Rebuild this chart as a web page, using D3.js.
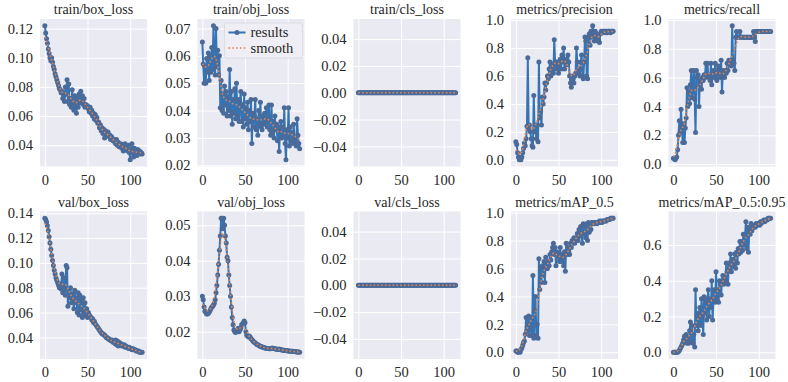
<!DOCTYPE html>
<html>
<head>
<meta charset="utf-8">
<script src="https://cdn.jsdelivr.net/npm/d3@7"></script>
<style>
  body { margin: 0; background: #fff; }
  svg { display: block; font-family: "Liberation Serif", "Times New Roman", serif; }
</style>
</head>
<body>
<svg id="chart" width="788" height="382"></svg>
<script>
// results per epoch
const trainBox = [
  0.122, 0.117, 0.113, 0.110, 0.106, 0.103, 0.100, 0.098, 0.100, 0.097,
  0.094, 0.092, 0.089, 0.087, 0.085, 0.083, 0.081, 0.079, 0.078, 0.076,
  0.077, 0.072, 0.074, 0.070, 0.080, 0.075, 0.085, 0.070, 0.082, 0.068,
  0.072, 0.066, 0.078, 0.070, 0.064, 0.074, 0.068, 0.062, 0.072, 0.066,
  0.075, 0.069, 0.077, 0.070, 0.074, 0.068, 0.072, 0.066, 0.068, 0.067,
  0.067, 0.065, 0.063, 0.066, 0.062, 0.064, 0.060, 0.062, 0.058, 0.061,
  0.057, 0.059, 0.055, 0.056, 0.052, 0.054, 0.050, 0.052, 0.048, 0.051,
  0.045, 0.050, 0.048, 0.047, 0.049, 0.046, 0.047, 0.044, 0.046, 0.045,
  0.043, 0.044, 0.042, 0.041, 0.044, 0.040, 0.042, 0.039, 0.040, 0.041,
  0.038, 0.040, 0.036, 0.039, 0.041, 0.037, 0.038, 0.036, 0.040, 0.035,
  0.030, 0.037, 0.041, 0.035, 0.032, 0.038, 0.034, 0.036, 0.033, 0.037,
  0.035, 0.036, 0.034, 0.035, 0.034
];
const trainObj = [
  0.065, 0.057, 0.050, 0.056, 0.050, 0.059, 0.054, 0.061, 0.051, 0.060,
  0.054, 0.063, 0.055, 0.071, 0.058, 0.053, 0.070, 0.056, 0.062, 0.053,
  0.060, 0.041, 0.051, 0.040, 0.046, 0.039, 0.049, 0.042, 0.047, 0.038,
  0.045, 0.040, 0.055, 0.038, 0.047, 0.035, 0.044, 0.039, 0.048, 0.037,
  0.050, 0.038, 0.044, 0.036, 0.043, 0.047, 0.036, 0.042, 0.034, 0.046,
  0.037, 0.041, 0.035, 0.043, 0.033, 0.040, 0.036, 0.044, 0.028, 0.039,
  0.034, 0.038, 0.044, 0.033, 0.037, 0.031, 0.040, 0.035, 0.043, 0.034,
  0.033, 0.038, 0.035, 0.039, 0.036, 0.041, 0.034, 0.037, 0.042, 0.033,
  0.031, 0.042, 0.032, 0.036, 0.030, 0.038, 0.033, 0.035, 0.029, 0.034,
  0.025, 0.033, 0.036, 0.030, 0.034, 0.031, 0.041, 0.028, 0.022, 0.033,
  0.030, 0.041, 0.027, 0.034, 0.029, 0.032, 0.028, 0.035, 0.030, 0.029,
  0.027, 0.037, 0.031, 0.028, 0.026
];
const trainCls = new Array(115).fill(0);
const precision = [
  0.13, 0.11, 0.05, 0.02, 0.00, 0.01, 0.00, 0.02, 0.05, 0.08,
  0.12, 0.10, 0.15, 0.24, 0.73, 0.22, 0.25, 0.20, 0.15, 0.10,
  0.09, 0.46, 0.20, 0.25, 0.15, 0.25, 0.13, 0.70, 0.30, 0.35,
  0.25, 0.45, 0.40, 0.45, 0.55, 0.50, 0.55, 0.60, 0.58, 0.65,
  0.70, 0.60, 0.65, 0.68, 0.62, 0.86, 0.70, 0.65, 0.70, 0.68,
  0.62, 0.70, 0.72, 0.65, 0.75, 0.70, 0.80, 0.65, 0.72, 0.70,
  0.68, 0.75, 0.70, 0.60, 0.55, 0.52, 0.60, 0.58, 0.55, 0.60,
  0.62, 0.80, 0.70, 0.62, 0.65, 0.60, 0.70, 0.75, 0.60, 0.58,
  0.70, 0.88, 0.85, 0.60, 0.58, 0.88, 0.90, 0.82, 0.92, 0.88,
  0.96, 0.90, 0.85, 0.92, 0.88, 0.90, 0.85, 0.86, 0.84, 0.90,
  0.92, 0.91, 0.92, 0.92, 0.91, 0.92, 0.92, 0.91, 0.92, 0.92,
  0.92, 0.91, 0.92, 0.92, 0.92
];
const recall = [
  0.04, 0.04, 0.03, 0.04, 0.05, 0.10, 0.20, 0.30, 0.22, 0.38,
  0.25, 0.15, 0.28, 0.15, 0.25, 0.32, 0.53, 0.40, 0.50, 0.42,
  0.55, 0.65, 0.46, 0.52, 0.65, 0.45, 0.22, 0.65, 0.60, 0.62,
  0.40, 0.55, 0.58, 0.52, 0.60, 0.58, 0.62, 0.60, 0.70, 0.62,
  0.70, 0.60, 0.62, 0.58, 0.70, 0.55, 0.62, 0.65, 0.60, 0.70,
  0.62, 0.58, 0.65, 0.68, 0.63, 0.60, 0.72, 0.50, 0.65, 0.62,
  0.60, 0.65, 0.63, 0.70, 0.65, 0.72, 0.70, 0.72, 0.68, 0.96,
  0.72, 0.70, 0.65, 0.88, 0.92, 0.88, 0.88, 0.88, 0.92, 0.88,
  0.88, 0.88, 0.88, 0.88, 0.88, 0.88, 0.88, 0.88, 0.88, 0.88,
  0.88, 0.88, 0.88, 0.88, 0.92, 0.88, 0.85, 0.92, 0.92, 0.92,
  0.92, 0.92, 0.92, 0.92, 0.92, 0.92, 0.92, 0.92, 0.92, 0.92,
  0.92, 0.92, 0.92, 0.92, 0.92
];
const valBox = [
  0.136, 0.135, 0.133, 0.130, 0.126, 0.121, 0.116, 0.111, 0.106, 0.102,
  0.098, 0.094, 0.091, 0.088, 0.086, 0.084, 0.082, 0.080, 0.083, 0.079,
  0.091, 0.076, 0.080, 0.088, 0.074, 0.098, 0.096, 0.065, 0.078, 0.072,
  0.080, 0.068, 0.075, 0.070, 0.063, 0.078, 0.068, 0.072, 0.060, 0.076,
  0.058, 0.074, 0.062, 0.070, 0.056, 0.072, 0.060, 0.068, 0.058, 0.063,
  0.056, 0.060, 0.058, 0.057, 0.056, 0.054, 0.055, 0.052, 0.053, 0.051,
  0.050, 0.049, 0.048, 0.047, 0.046, 0.045, 0.044, 0.043, 0.043, 0.042,
  0.042, 0.041, 0.040, 0.040, 0.039, 0.039, 0.038, 0.038, 0.037, 0.038,
  0.036, 0.037, 0.035, 0.038, 0.034, 0.037, 0.033, 0.036, 0.034, 0.035,
  0.033, 0.034, 0.033, 0.034, 0.032, 0.033, 0.032, 0.032, 0.031, 0.032,
  0.031, 0.031, 0.030, 0.031, 0.030, 0.030, 0.030, 0.029, 0.029, 0.029,
  0.029, 0.028, 0.028, 0.028, 0.028
];
const valObj = [
  0.0300, 0.0290, 0.0270, 0.0258, 0.0255, 0.0250, 0.0250, 0.0252, 0.0255, 0.0260,
  0.0265, 0.0270, 0.0272, 0.0275, 0.0280, 0.0290, 0.0310, 0.0330, 0.0360, 0.0390,
  0.0430, 0.0470, 0.0520, 0.0520, 0.0490, 0.0520, 0.0500, 0.0470, 0.0450, 0.0410,
  0.0400, 0.0360, 0.0330, 0.0300, 0.0270, 0.0240, 0.0220, 0.0205, 0.0200, 0.0198,
  0.0200, 0.0205, 0.0210, 0.0200, 0.0205, 0.0210, 0.0220, 0.0222, 0.0225, 0.0230,
  0.0225, 0.0200, 0.0190, 0.0188, 0.0185, 0.0188, 0.0185, 0.0180, 0.0178, 0.0175,
  0.0172, 0.0170, 0.0168, 0.0166, 0.0164, 0.0163, 0.0162, 0.0160, 0.0159, 0.0158,
  0.0157, 0.0156, 0.0155, 0.0155, 0.0154, 0.0153, 0.0153, 0.0153, 0.0152, 0.0152,
  0.0152, 0.0153, 0.0154, 0.0153, 0.0152, 0.0152, 0.0151, 0.0151, 0.0150, 0.0150,
  0.0151, 0.0150, 0.0149, 0.0149, 0.0148, 0.0148, 0.0148, 0.0147, 0.0147, 0.0147,
  0.0146, 0.0146, 0.0146, 0.0145, 0.0145, 0.0145, 0.0145, 0.0144, 0.0144, 0.0144,
  0.0143, 0.0143, 0.0143, 0.0143, 0.0142
];
const valCls = new Array(115).fill(0);
const map50 = [
  0.01, 0.01, 0.00, 0.00, 0.01, 0.00, 0.02, 0.03, 0.05, 0.07,
  0.08, 0.13, 0.25, 0.15, 0.20, 0.26, 0.12, 0.18, 0.25, 0.12,
  0.55, 0.10, 0.30, 0.40, 0.12, 0.20, 0.10, 0.67, 0.45, 0.60,
  0.50, 0.62, 0.55, 0.65, 0.50, 0.68, 0.60, 0.60, 0.65, 0.62,
  0.70, 0.66, 0.72, 0.75, 0.78, 0.70, 0.75, 0.62, 0.72, 0.68,
  0.70, 0.65, 0.75, 0.65, 0.70, 0.68, 0.62, 0.72, 0.58, 0.78,
  0.70, 0.75, 0.72, 0.70, 0.78, 0.75, 0.80, 0.78, 0.82, 0.78,
  0.80, 0.82, 0.85, 0.80, 0.88, 0.83, 0.90, 0.85, 0.78, 0.92,
  0.85, 0.90, 0.82, 0.92, 0.80, 0.93, 0.86, 0.92, 0.88, 0.93,
  0.92, 0.93, 0.92, 0.93, 0.93, 0.92, 0.93, 0.93, 0.94, 0.93,
  0.94, 0.93, 0.94, 0.94, 0.94, 0.94, 0.94, 0.95, 0.95, 0.95,
  0.95, 0.96, 0.96, 0.96, 0.96
];
const map5095 = [
  0.000, 0.000, 0.000, 0.000, 0.000, 0.000, 0.005, 0.010, 0.020, 0.030,
  0.040, 0.050, 0.070, 0.090, 0.060, 0.100, 0.050, 0.080, 0.050, 0.120,
  0.170, 0.060, 0.150, 0.050, 0.100, 0.030, 0.350, 0.150, 0.200, 0.120,
  0.220, 0.250, 0.150, 0.300, 0.200, 0.100, 0.310, 0.220, 0.280, 0.180,
  0.300, 0.350, 0.200, 0.300, 0.250, 0.400, 0.180, 0.300, 0.350, 0.280,
  0.450, 0.300, 0.350, 0.280, 0.400, 0.380, 0.320, 0.400, 0.430, 0.380,
  0.420, 0.400, 0.500, 0.450, 0.380, 0.500, 0.470, 0.550, 0.450, 0.500,
  0.520, 0.480, 0.550, 0.470, 0.560, 0.500, 0.580, 0.550, 0.620, 0.560,
  0.620, 0.570, 0.660, 0.600, 0.650, 0.730, 0.580, 0.700, 0.560, 0.680,
  0.660, 0.720, 0.680, 0.700, 0.700, 0.710, 0.700, 0.720, 0.710, 0.720,
  0.720, 0.710, 0.730, 0.720, 0.730, 0.730, 0.740, 0.730, 0.740, 0.740,
  0.740, 0.750, 0.750, 0.750, 0.750
];

const titles = [
  "train/box_loss", "train/obj_loss", "train/cls_loss", "metrics/precision", "metrics/recall",
  "val/box_loss", "val/obj_loss", "val/cls_loss", "metrics/mAP_0.5", "metrics/mAP_0.5:0.95"
];
const series = [trainBox, trainObj, trainCls, precision, recall, valBox, valObj, valCls, map50, map5095];
const lossTicks = [0.04, 0.06, 0.08, 0.10, 0.12, 0.14];
const objTicks = [0.02, 0.03, 0.04, 0.05, 0.06, 0.07];
const clsTicks = [-0.04, -0.02, 0.00, 0.02, 0.04];
const unitTicks = [0.0, 0.2, 0.4, 0.6, 0.8, 1.0];
const yTicks = [lossTicks, objTicks, clsTicks, unitTicks, unitTicks, lossTicks, objTicks, clsTicks, unitTicks, unitTicks];
const yFormats = [".2f", ".2f", ".2f", ".1f", ".1f", ".2f", ".2f", ".2f", ".1f", ".1f"];
const xTicks = [0, 50, 100];
const legendLabels = ["results", "smooth"];

const lefts = [40, 197.5, 353.5, 511, 668.5];
const tops = [19, 211.5];
const pw = 107, ph = 147.5;
const titleSize = 14, tickSize = 14.5;
const lineColor = "#3474b4", dotColor = "#4a6b9a", smoothColor = "#e4834f";

// gaussian_filter1d(sigma=3), reflect mode, like the original plot
function smooth(y, s = 3) {
  const r = Math.round(4 * s), n = y.length;
  const w = d3.range(-r, r + 1).map(k => Math.exp(-0.5 * k * k / (s * s)));
  const tot = d3.sum(w);
  return y.map((_, i) => {
    let acc = 0;
    for (let k = -r; k <= r; k++) {
      let j = i + k;
      while (j < 0 || j >= n) j = j < 0 ? -j - 1 : 2 * n - j - 1;
      acc += w[k + r] * y[j];
    }
    return acc / tot;
  });
}

function pad(lo, hi) {
  if (lo === hi) { lo -= 0.05; hi += 0.05; }
  const m = (hi - lo) * 0.05;
  return [lo - m, hi + m];
}

const svg = d3.select("#chart");

series.forEach((data, i) => {
  const col = i % 5, row = Math.floor(i / 5);
  const g = svg.append("g").attr("transform", "translate(" + lefts[col] + "," + tops[row] + ")");
  const idx = d3.range(data.length);
  const x = d3.scaleLinear().domain(pad(0, data.length - 1)).range([0, pw]);
  const y = d3.scaleLinear().domain(pad(d3.min(data), d3.max(data))).range([ph, 0]);
  const yt = yTicks[i].filter(t => t >= y.domain()[0] && t <= y.domain()[1]);

  g.append("rect").attr("width", pw).attr("height", ph).attr("fill", "#eaeaf2");

  const yAxis = g.append("g")
    .call(d3.axisLeft(y).tickValues(yt).tickFormat(d3.format(yFormats[i])).tickSize(-pw).tickPadding(7));
  const xAxis = g.append("g").attr("transform", "translate(0," + ph + ")")
    .call(d3.axisBottom(x).tickValues(xTicks).tickSize(-ph).tickPadding(8));
  [yAxis, xAxis].forEach(a => {
    a.select(".domain").remove();
    a.selectAll("line").attr("stroke", "#fff").attr("stroke-width", 1);
    a.selectAll("text").attr("fill", "#262626").attr("font-size", tickSize)
      .style("font-family", "'Liberation Serif', 'Times New Roman', serif");
  });

  const line = d3.line().x(j => x(j)).y(j => y(data[j]));
  g.append("path").attr("d", line(idx)).attr("fill", "none")
    .attr("stroke", lineColor).attr("stroke-width", 2).attr("stroke-linejoin", "round");
  g.selectAll("circle.pt").data(idx).join("circle").attr("class", "pt")
    .attr("cx", j => x(j)).attr("cy", j => y(data[j])).attr("r", 2.5).attr("fill", dotColor);

  const sm = smooth(data);
  g.append("path").attr("d", d3.line().x((d, j) => x(j)).y(d => y(d))(sm))
    .attr("fill", "none").attr("stroke", smoothColor).attr("stroke-width", 1.6)
    .attr("stroke-dasharray", "1.6,2.2");

  g.append("text").attr("x", pw / 2).attr("y", -5).attr("text-anchor", "middle")
    .attr("font-size", titleSize).attr("fill", "#262626").text(titles[i]);

  if (i === 1) {
    const lg = g.append("g").attr("transform", "translate(" + (pw - 80) + ",4)");
    lg.append("rect").attr("width", 78).attr("height", 35).attr("rx", 2)
      .attr("fill", "#eeeef4").attr("stroke", "#d8d8e0").attr("stroke-width", 0.8);
    lg.append("line").attr("x1", 4).attr("x2", 21).attr("y1", 9.5).attr("y2", 9.5)
      .attr("stroke", lineColor).attr("stroke-width", 2);
    lg.append("circle").attr("cx", 12.5).attr("cy", 9.5).attr("r", 2.5).attr("fill", dotColor);
    lg.append("line").attr("x1", 4).attr("x2", 21).attr("y1", 25).attr("y2", 25)
      .attr("stroke", smoothColor).attr("stroke-width", 1.6).attr("stroke-dasharray", "1.6,2.2");
    legendLabels.forEach((t, k) => {
      lg.append("text").attr("x", 26).attr("y", 9.5 + 15.5 * k).attr("dy", "0.33em")
        .attr("font-size", tickSize).attr("fill", "#262626").text(t);
    });
  }
});
</script>
</body>
</html>
